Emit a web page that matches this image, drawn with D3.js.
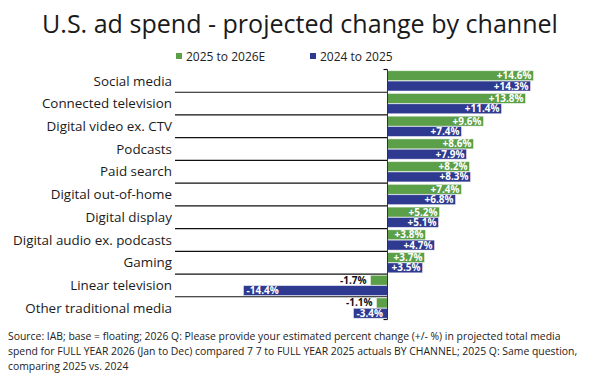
<!DOCTYPE html>
<html><head><meta charset="utf-8">
<script src="https://cdn.jsdelivr.net/npm/d3@7"></script>
<style>
html,body{margin:0;padding:0;background:#fff;}
svg{display:block;font-family:"Open Sans",sans-serif;}
</style></head>
<body>
<svg id="c" width="600" height="375"></svg>
<script>
const categories = ["Social media","Connected television","Digital video ex. CTV","Podcasts","Paid search","Digital out-of-home","Digital display","Digital audio ex. podcasts","Gaming","Linear television","Other traditional media"];
const seriesNames = ["2025 to 2026E","2024 to 2025"];
const values2026 = [14.6,13.8,9.6,8.6,8.2,7.4,5.2,3.8,3.7,-1.7,-1.1];
const values2025 = [14.3,11.4,7.4,7.9,8.3,6.8,5.1,4.7,3.5,-14.4,-3.4];
const colors = ["#5b9f48","#2e3a90"];
const title = "U.S. ad spend - projected change by channel";
const sourceLines = [
 "Source: IAB; base = floating; 2026 Q: Please provide your estimated percent change (+/- %) in projected total media",
 "spend for FULL YEAR 2026 (Jan to Dec) compared 7 7 to FULL YEAR 2025 actuals BY CHANNEL; 2025 Q: Same question,",
 "comparing 2025 vs. 2024"
];

const svg = d3.select("#c");
const series = [values2026, values2025];

const x = d3.scaleLinear().domain([-15,16]).range([237.5,547.5]);
const y = d3.scaleBand().domain(categories).range([69.5,319.5]).paddingInner(0).paddingOuter(0);
const ys = d3.scaleBand().domain(seriesNames).range([0,y.bandwidth()]).paddingInner(0.04).paddingOuter(0.12);

// title
const t = svg.append("text").attr("x",300).attr("y",33).attr("text-anchor","middle")
 .attr("font-size",25).attr("fill","#1a1a1a").text(title);
const tw = t.node().getComputedTextLength();
if (tw > 0) t.attr("font-size", 25*516/tw);

// legend
const leg = svg.append("g");
const legX = [176,310];
seriesNames.forEach((s,i)=>{
  leg.append("rect").attr("x",legX[i]).attr("y",53).attr("width",6).attr("height",6).attr("fill",colors[i]);
  leg.append("text").attr("x",legX[i]+10).attr("y",60.5).attr("font-size",12).attr("fill","#222").text(s);
});

// category labels
svg.append("g").selectAll("text").data(categories).join("text")
 .attr("x",172).attr("y",d=>y(d)+y.bandwidth()/2).attr("dy","0.35em")
 .attr("text-anchor","end").attr("font-size",13.4).attr("fill","#1a1a1a").text(d=>d);

// separators
const x0 = x(0);
const bounds = d3.range(0,categories.length+1).map(i=> i<categories.length ? y(categories[i]) : y.range()[1]);
svg.append("g").selectAll("line").data(bounds).join("line")
 .attr("x1",(d,i)=> (i===0||i===categories.length)? x0-4 : 175)
 .attr("x2",x0).attr("y1",d=>d).attr("y2",d=>d)
 .attr("stroke","#111").attr("stroke-width",1.2);

// bars
const bars = svg.append("g");
series.forEach((vals,si)=>{
  const g = bars.append("g");
  g.selectAll("rect").data(vals).join("rect")
   .attr("x",d=>Math.min(x(d),x0)).attr("width",d=>Math.abs(x(d)-x0))
   .attr("y",(d,i)=>y(categories[i])+ys(seriesNames[si])).attr("height",ys.bandwidth())
   .attr("fill",colors[si]).attr("stroke","rgba(255,255,255,0.55)").attr("stroke-width",0.8);
});

// axis line
svg.append("line").attr("x1",x0).attr("x2",x0).attr("y1",y.range()[0]).attr("y2",y.range()[1])
 .attr("stroke","#333").attr("stroke-width",1);

// labels
const fmt = v => (v>0?"+":"") + v.toFixed(1) + "%";
series.forEach((vals,si)=>{
  vals.forEach((v,i)=>{
    const yy = y(categories[i])+ys(seriesNames[si])+ys.bandwidth()/2;
    const tx = svg.append("text").attr("y",yy).attr("dy","0.35em")
      .attr("font-size",10).attr("font-weight","bold").text(fmt(v));
    const w = tx.node().getComputedTextLength();
    const bw = Math.abs(x(v)-x0);
    if (v>=0) {
      tx.attr("x",x(v)-2).attr("text-anchor","end").attr("fill","#fff");
    } else if (bw > w+4) {
      tx.attr("x",x(v)+3).attr("text-anchor","start").attr("fill","#fff");
    } else {
      tx.attr("x",x(v)-4).attr("text-anchor","end").attr("fill","#111");
    }
  });
});

// source
svg.append("g").selectAll("text").data(sourceLines).join("text")
 .attr("x",8).attr("y",(d,i)=>340+i*15.2).attr("font-size",10.4).attr("fill","#222")
 .text(d=>d);
</script>
</body></html>
